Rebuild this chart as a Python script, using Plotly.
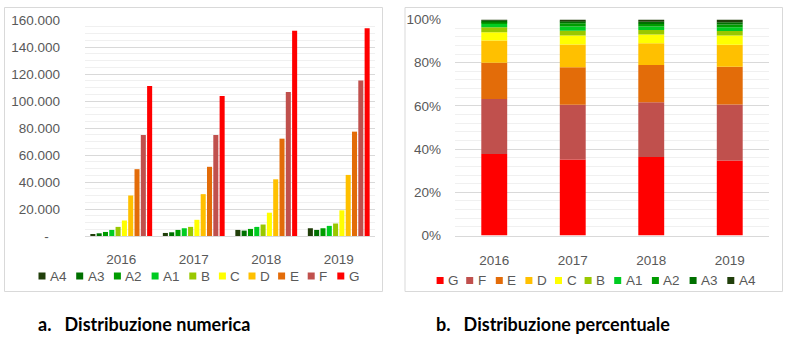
import plotly.graph_objects as go

W, H = 789, 355

years = ["2016", "2017", "2018", "2019"]
classes = ["A4", "A3", "A2", "A1", "B", "C", "D", "E", "F", "G"]
class_colors = ["#213f0b", "#007000", "#009c00", "#00cc22", "#99c800",
                "#ffff00", "#ffc000", "#e36c09", "#c0504d", "#ff0000"]

A4 = [1000, 2250, 4500, 5750]
A3 = [2000, 2750, 4000, 4500]
A2 = [3000, 4500, 5250, 5750]
A1 = [4500, 5750, 6750, 7500]
B = [6750, 6750, 8500, 9250]
C = [11500, 12000, 17250, 19000]
D = [30000, 31000, 42000, 45250]
E = [49500, 51250, 72100, 77300]
F = [74800, 74800, 106700, 115100]
G = [111100, 103700, 152100, 153800]
series = [A4, A3, A2, A1, B, C, D, E, F, G]

y_ticks = [0, 20000, 40000, 60000, 80000, 100000, 120000, 140000, 160000]
pct_ticks = [0, 20, 40, 60, 80, 100]

caption_a = "a.   Distribuzione numerica"
caption_b = "b.   Distribuzione percentuale"

FONT = "Liberation Sans"
GREY = "#595959"


def px_x(p):
    return p / W


def px_y(p):
    return 1 - p / H


fig = go.Figure()

# left: grouped counts
for name, vals, col in zip(classes, series, class_colors):
    fig.add_trace(go.Bar(x=years, y=vals, name=name, marker_color=col,
                         marker_line_width=0, xaxis="x", yaxis="y",
                         showlegend=False))

# right: stacked percentages (G at bottom)
totals = [sum(s[i] for s in series) for i in range(len(years))]
base = [0.0] * len(years)
for name, vals, col in reversed(list(zip(classes, series, class_colors))):
    pct = [100.0 * v / t for v, t in zip(vals, totals)]
    fig.add_trace(go.Bar(x=years, y=pct, base=list(base), name=name,
                         marker_color=col, marker_line_width=0,
                         offsetgroup="pct", width=0.33,
                         xaxis="x2", yaxis="y2", showlegend=False))
    base = [b + p for b, p in zip(base, pct)]


def fmt(v):
    return "-\u00a0\u00a0\u00a0" if v == 0 else f"{v:,}".replace(",", ".")


tickfont = dict(family=FONT, size=13.5, color=GREY)
fig.update_layout(
    template="none",
    width=W, height=H, margin=dict(l=0, r=0, t=0, b=0, autoexpand=False),
    paper_bgcolor="white", plot_bgcolor="white",
    barmode="group", bargap=0.13, bargroupgap=0.2,
    showlegend=False,
    xaxis=dict(domain=[px_x(85), px_x(375)], anchor="y", showgrid=False,
               showline=True, linecolor="#d9d9d9", linewidth=1,
               automargin=False,
               tickfont=tickfont, ticks="", ticklabelstandoff=11),
    yaxis=dict(domain=[px_y(236), px_y(20)], anchor="x", range=[0, 160000],
               tickvals=y_ticks, ticktext=[fmt(v) for v in y_ticks],
               showgrid=True, gridcolor="#d9d9d9", gridwidth=1,
               minor=dict(dtick=5000, showgrid=True, gridcolor="#f0f0f0",
                          gridwidth=1),
               automargin=False,
               zeroline=False, showline=False, tickfont=tickfont, ticks="",
               ticklabelstandoff=24),
    xaxis2=dict(domain=[px_x(455), px_x(769)], anchor="y2", showgrid=False,
                showline=True, linecolor="#d9d9d9", linewidth=1,
                automargin=False,
                tickfont=tickfont, ticks="", ticklabelstandoff=12),
    yaxis2=dict(domain=[px_y(235.5), px_y(19.5)], anchor="x2",
                range=[0, 100], tickvals=pct_ticks,
                ticktext=[f"{v}%" for v in pct_ticks],
                showgrid=True, gridcolor="#d9d9d9", gridwidth=1,
                minor=dict(dtick=4, showgrid=True, gridcolor="#f0f0f0",
                           gridwidth=1),
                automargin=False,
                zeroline=False, showline=False, tickfont=tickfont, ticks="",
                ticklabelstandoff=13),
)

shapes = []
annotations = []
# chart borders
for x0, x1 in [(4.5, 382.5), (405, 782.5)]:
    shapes.append(dict(type="rect", xref="paper", yref="paper",
                       x0=px_x(x0), x1=px_x(x1), y0=px_y(291.5), y1=px_y(7.5),
                       line=dict(color="#d9d9d9", width=1), layer="below"))


def legend_row(names, cols, x_start, y_center):
    x = x_start
    for n, c in zip(names, cols):
        shapes.append(dict(type="rect", xref="paper", yref="paper",
                           x0=px_x(x), x1=px_x(x + 7),
                           y0=px_y(y_center + 3.5), y1=px_y(y_center - 3.5),
                           fillcolor=c, line=dict(width=0)))
        annotations.append(dict(xref="paper", yref="paper",
                                x=px_x(x + 9.5), y=px_y(y_center),
                                xanchor="left", yanchor="middle",
                                text=n, showarrow=False,
                                font=dict(family=FONT, size=13.5, color=GREY)))
        x += 21.5 + 8.1 * len(n)


legend_row(classes, class_colors, 38.5, 276)
legend_row(classes[::-1], class_colors[::-1], 436.6, 280.5)

for txt, x in [(caption_a, 36), (caption_b, 434)]:
    annotations.append(dict(xref="paper", yref="paper", x=px_x(x),
                            y=px_y(324), xanchor="left", yanchor="middle",
                            text=f"<b>{txt}</b>", showarrow=False,
                            font=dict(family="Lato", size=18, color="black")))

fig.update_layout(shapes=shapes, annotations=annotations)
fig.write_html("out.html", config={"displayModeBar": False},
               post_script="document.body.style.margin='0';"
                           "document.body.style.overflow='hidden';")
